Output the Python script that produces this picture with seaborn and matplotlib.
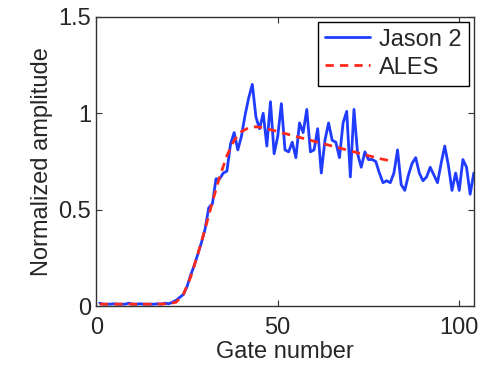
import matplotlib
matplotlib.use("Agg")
import matplotlib.pyplot as plt
import numpy as np
import pandas as pd
import seaborn as sns

GATES = list(range(1, 105))
JASON2 = [
    0.015, 0.01, 0.01, 0.01, 0.012, 0.01, 0.01, 0.01, 0.015, 0.01,
    0.01, 0.012, 0.01, 0.01, 0.01, 0.01, 0.012, 0.01, 0.015, 0.012,
    0.02, 0.03, 0.045, 0.06, 0.10, 0.16, 0.21, 0.27, 0.33, 0.40,
    0.51, 0.53, 0.66, 0.66, 0.69, 0.70, 0.84, 0.90, 0.81, 0.88,
    0.99, 1.08, 1.15, 0.98, 0.92, 1.00, 0.83, 1.06, 0.79, 0.88,
    1.05, 0.81, 0.80, 0.85, 0.77, 0.95, 0.90, 1.02, 0.80, 0.81,
    0.92, 0.69, 0.86, 0.95, 0.86, 0.85, 0.77, 0.95, 1.01, 0.67,
    1.02, 0.79, 0.72, 0.80, 0.76, 0.76, 0.75, 0.69, 0.64, 0.65,
    0.64, 0.69, 0.81, 0.63, 0.60, 0.68, 0.74, 0.77, 0.69, 0.65,
    0.67, 0.72, 0.68, 0.64, 0.74, 0.83, 0.73, 0.60, 0.69, 0.60,
    0.76, 0.72, 0.58, 0.69,
]

ALES_GATES = [1, 4, 8, 12, 16, 20, 22, 24, 26, 28, 30, 32, 34, 36, 38, 40,
              42, 44, 46, 48, 50, 54, 58, 62, 66, 70, 74, 78, 82]
ALES = [0.01, 0.01, 0.01, 0.01, 0.01, 0.012, 0.02, 0.06, 0.15, 0.27, 0.40,
        0.54, 0.67, 0.78, 0.86, 0.905, 0.925, 0.93, 0.925, 0.915, 0.905,
        0.885, 0.865, 0.845, 0.825, 0.805, 0.785, 0.765, 0.75]

sns.set_style("ticks", {"xtick.direction": "in", "ytick.direction": "in"})
plt.rcParams["font.family"] = ["Liberation Sans", "DejaVu Sans"]
plt.rcParams["font.size"] = 17

jason = pd.DataFrame({"gate": GATES, "amp": JASON2})
ales = pd.DataFrame({"gate": ALES_GATES, "amp": ALES})

fig = plt.figure(figsize=(4.81, 3.67), dpi=100)
ax = fig.add_axes([0.2, 0.166, 0.785, 0.788])

sns.lineplot(data=jason, x="gate", y="amp", ax=ax, color="#1f3cff",
             linewidth=2.0, label="Jason 2")
sns.lineplot(data=ales, x="gate", y="amp", ax=ax, color="#ff2a1a",
             linewidth=2.0, linestyle=(0, (3, 2.2)), label="ALES")

ax.set_xlim(0, 104)
ax.set_ylim(0, 1.5)
ax.set_xticks([0, 50, 100])
ax.set_yticks([0, 0.5, 1, 1.5])
ax.set_yticklabels(["0", "0.5", "1", "1.5"])
ax.tick_params(labelsize=17, length=4, top=True, right=True, color="#333333")
ax.tick_params(axis="x", pad=8)
ax.set_xlabel("Gate number", fontsize=17, labelpad=1)
ax.set_ylabel("Normalized amplitude", fontsize=17, labelpad=4)
for s in ax.spines.values():
    s.set_visible(True)
    s.set_color("#333333")
    s.set_linewidth(1.0)

leg = ax.legend(loc="upper right", fontsize=17, fancybox=False,
                edgecolor="black", framealpha=1, handlelength=1.9,
                borderpad=0.3, labelspacing=0.25, handletextpad=0.4,
                borderaxespad=0.2)
leg.get_frame().set_linewidth(1.0)

fig.savefig("out.png", dpi=100)
